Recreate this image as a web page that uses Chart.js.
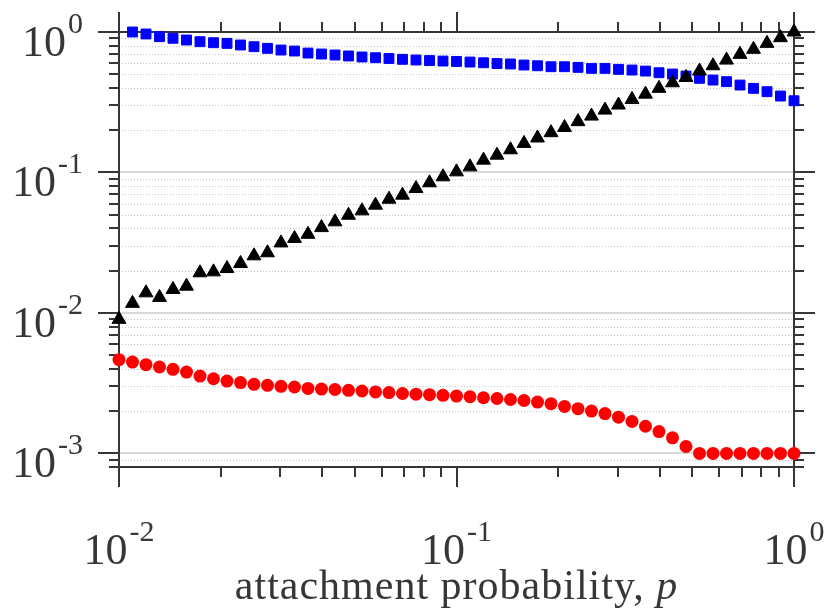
<!DOCTYPE html>
<html>
<head>
<meta charset="utf-8">
<script src="https://cdn.jsdelivr.net/npm/chart.js@4"></script>
<style>
  html, body { margin: 0; padding: 0; background: #fff; }
  #c { display: block; }
</style>
</head>
<body>
<canvas id="c" width="827" height="614"></canvas>
<script>
// attachment probability p (log grid, 51 points)
const pVals = [
  0.01, 0.010965, 0.012023, 0.013183, 0.014454, 0.015849, 0.017378, 0.019055, 0.020893, 0.022909,
  0.025119, 0.027542, 0.030200, 0.033113, 0.036308, 0.039811, 0.043652, 0.047863, 0.052481, 0.057544,
  0.063096, 0.069183, 0.075858, 0.083176, 0.091201, 0.1, 0.10965, 0.12023, 0.13183, 0.14454,
  0.15849, 0.17378, 0.19055, 0.20893, 0.22909, 0.25119, 0.27542, 0.30200, 0.33113, 0.36308,
  0.39811, 0.43652, 0.47863, 0.52481, 0.57544, 0.63096, 0.69183, 0.75858, 0.83176, 0.91201, 1.0
];

const blackVals = [
  0.0090, 0.0117, 0.0139, 0.0129, 0.0147, 0.0155, 0.0193, 0.0196, 0.0207, 0.0225,
  0.0255, 0.0268, 0.0315, 0.0339, 0.0363, 0.0405, 0.0445, 0.0496, 0.0533, 0.0585,
  0.0645, 0.0689, 0.0769, 0.0844, 0.0931, 0.101, 0.1096, 0.1224, 0.1328, 0.145,
  0.161, 0.176, 0.192, 0.209, 0.230, 0.252, 0.278, 0.302, 0.331, 0.361,
  0.397, 0.435, 0.475, 0.527, 0.575, 0.631, 0.693, 0.753, 0.830, 0.911, 1.0
];

const blueVals = [
  null, 1.0, 0.968, 0.926, 0.902, 0.877, 0.853, 0.839, 0.830, 0.808,
  0.786, 0.765, 0.744, 0.732, 0.708, 0.697, 0.686, 0.675, 0.664, 0.656,
  0.648, 0.639, 0.632, 0.626, 0.621, 0.617, 0.611, 0.604, 0.596, 0.592,
  0.582, 0.575, 0.566, 0.566, 0.560, 0.551, 0.551, 0.542, 0.536, 0.527,
  0.513, 0.502, 0.486, 0.468, 0.455, 0.443, 0.419, 0.397, 0.376, 0.350, 0.324
];

const redVals = [
  0.00465, 0.00447, 0.00428, 0.00412, 0.00397, 0.00379, 0.00355, 0.00340, 0.00327, 0.00319,
  0.00310, 0.00305, 0.00300, 0.00297, 0.00290, 0.00287, 0.00285, 0.00281, 0.00278, 0.00274,
  0.00271, 0.00267, 0.00264, 0.00262, 0.00259, 0.00256, 0.00253, 0.00249, 0.00246, 0.00242,
  0.00238, 0.00232, 0.00226, 0.00216, 0.00208, 0.00200, 0.00192, 0.00181, 0.00169, 0.00156,
  0.00143, 0.00129, 0.00112, 0.00100, 0.00100, 0.00100, 0.00100, 0.00100, 0.00100, 0.00100, 0.00100
];

const xMajor = [0.01, 0.1, 1];
const xMinor = [0.02, 0.03, 0.04, 0.05, 0.06, 0.07, 0.08, 0.09, 0.2, 0.3, 0.4, 0.5, 0.6, 0.7, 0.8, 0.9];
const yMajor = [0.001, 0.01, 0.1, 1];
const yMinor = [0.0008, 0.0009,
  0.002, 0.003, 0.004, 0.005, 0.006, 0.007, 0.008, 0.009,
  0.02, 0.03, 0.04, 0.05, 0.06, 0.07, 0.08, 0.09,
  0.2, 0.3, 0.4, 0.5, 0.6, 0.7, 0.8, 0.9];
const xTickExp = ['-2', '-1', '0'];
const yTickExp = ['-3', '-2', '-1', '0'];

const pts = vals => pVals.map((p, i) => ({ x: p, y: vals[i] })).filter(d => d.y !== null);

const INK = '#363636';
const SERIF = '"Liberation Serif", "Times New Roman", serif';

const framePlugin = {
  id: 'frame',
  beforeDatasetsDraw(chart) {
    const { ctx, chartArea: a, scales: { x, y } } = chart;
    ctx.save();

    // horizontal grid
    ctx.lineWidth = 1;
    ctx.strokeStyle = '#c4c4c4';
    ctx.setLineDash([1, 2]);
    yMinor.forEach(v => {
      const py = Math.round(y.getPixelForValue(v)) + 0.5;
      ctx.beginPath(); ctx.moveTo(a.left, py); ctx.lineTo(a.right, py); ctx.stroke();
    });
    ctx.setLineDash([]);
    ctx.strokeStyle = '#d8d8d8';
    ctx.lineWidth = 2;
    yMajor.forEach(v => {
      const py = Math.round(y.getPixelForValue(v));
      ctx.beginPath(); ctx.moveTo(a.left, py); ctx.lineTo(a.right, py); ctx.stroke();
    });

    // ticks, outward on all four sides
    ctx.strokeStyle = INK;
    ctx.lineWidth = 2;
    const yTick = (v, len) => {
      const py = Math.round(y.getPixelForValue(v));
      ctx.beginPath();
      ctx.moveTo(a.left - len, py); ctx.lineTo(a.left, py);
      ctx.moveTo(a.right, py); ctx.lineTo(a.right + len, py);
      ctx.stroke();
    };
    const xTick = (v, len) => {
      const px = Math.round(x.getPixelForValue(v));
      ctx.beginPath();
      ctx.moveTo(px, a.bottom); ctx.lineTo(px, a.bottom + len);
      ctx.moveTo(px, a.top - len); ctx.lineTo(px, a.top);
      ctx.stroke();
    };
    yMinor.forEach(v => yTick(v, 10));
    yMajor.forEach(v => yTick(v, 21));
    xMinor.forEach(v => xTick(v, 10));
    xMajor.forEach(v => xTick(v, 20));

    // frame
    ctx.strokeRect(a.left, a.top, a.right - a.left, a.bottom - a.top);

    // tick labels
    ctx.fillStyle = INK;
    ctx.textBaseline = 'alphabetic';
    const big = '44px ' + SERIF, small = '30px ' + SERIF;
    yMajor.forEach((v, i) => {
      const py = y.getPixelForValue(v);
      ctx.font = small;
      const ew = ctx.measureText(yTickExp[i]).width;
      ctx.textAlign = 'right';
      ctx.fillText(yTickExp[i], 83, py + 1);
      ctx.font = big;
      ctx.fillText('10', 83 - ew - 2, py + 24);
    });
    xMajor.forEach((v, i) => {
      const px = x.getPixelForValue(v);
      ctx.font = big;
      const bw = ctx.measureText('10').width;
      ctx.font = small;
      const ew = ctx.measureText(xTickExp[i]).width;
      const x0 = px - (bw + 2 + ew) / 2;
      ctx.textAlign = 'left';
      ctx.font = big;
      ctx.fillText('10', x0, 564);
      ctx.font = small;
      ctx.fillText(xTickExp[i], x0 + bw + 2, 541);
    });

    // axis title
    const t1 = 'attachment probability, ', t2 = 'p';
    ctx.letterSpacing = '1px';
    ctx.font = '42px ' + SERIF;
    const w1 = ctx.measureText(t1).width;
    ctx.font = 'italic 42px ' + SERIF;
    const w2 = ctx.measureText(t2).width;
    const tx = (a.left + a.right) / 2 - (w1 + w2) / 2;
    ctx.textAlign = 'left';
    ctx.font = '42px ' + SERIF;
    ctx.fillText(t1, tx, 599);
    ctx.font = 'italic 42px ' + SERIF;
    ctx.fillText(t2, tx + w1, 599);

    ctx.restore();
  }
};

new Chart(document.getElementById('c'), {
  type: 'scatter',
  data: {
    datasets: [
      { label: 'black', data: pts(blackVals), pointStyle: 'triangle', pointRadius: 8,
        backgroundColor: '#000', borderColor: '#000', borderWidth: 1, clip: false },
      { label: 'blue', data: pts(blueVals), pointStyle: 'rect', pointRadius: 7,
        backgroundColor: '#0000ff', borderColor: '#0000ff', borderWidth: 1, clip: false },
      { label: 'red', data: pts(redVals), pointStyle: 'circle', pointRadius: 6.5,
        backgroundColor: '#ff0000', borderColor: '#ff0000', borderWidth: 0, clip: false }
    ]
  },
  options: {
    responsive: false,
    animation: false,
    devicePixelRatio: 1,
    layout: { padding: { left: 119, right: 33, top: 32, bottom: 147 } },
    plugins: { legend: { display: false }, tooltip: { enabled: false } },
    scales: {
      x: { type: 'logarithmic', min: 0.01, max: 1, display: false },
      y: { type: 'logarithmic', min: 0.0008, max: 1, display: false }
    }
  },
  plugins: [framePlugin]
});
</script>
</body>
</html>
